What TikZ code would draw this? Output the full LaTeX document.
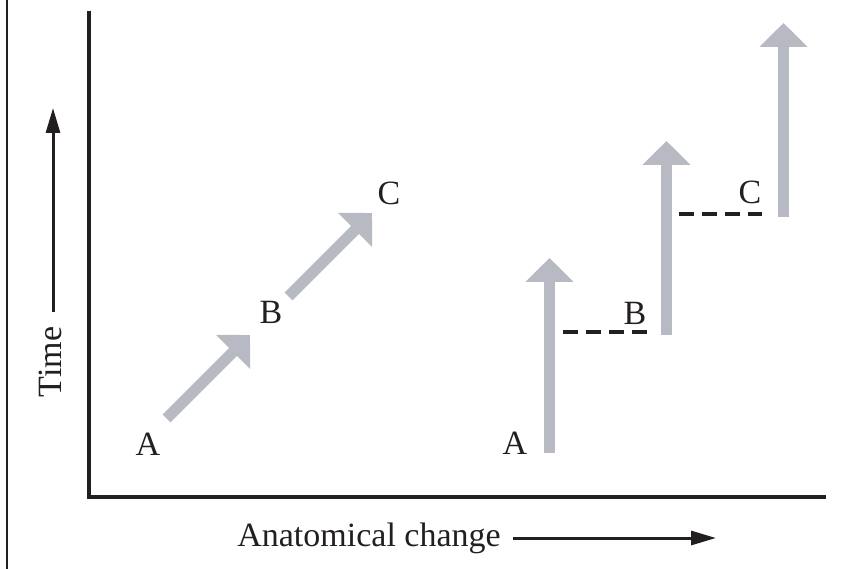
\documentclass[tikz,border=0pt]{standalone}
\usepackage{fontspec}
\setmainfont{Liberation Serif}
\usepackage{tikz}
\usetikzlibrary{arrows.meta}
\definecolor{ink}{RGB}{35,31,32}
\definecolor{stepgray}{RGB}{183,186,195}
\tikzset{
  trend/.style={draw=stepgray, line width=11pt, -{Triangle[length=24pt,width=47pt]}},
  axisline/.style={draw=ink, line width=3.5pt},
  hint/.style={draw=ink, line width=3pt, -{Triangle[length=25pt,width=14pt]}},
  link/.style={draw=ink, line width=3.5pt, dash pattern=on 15pt off 8pt},
  lbl/.style={inner sep=0pt, anchor=base, text=ink},
}

\begin{document}
\begin{tikzpicture}[x=1pt, y=-1pt, font=\fontsize{34}{40}\selectfont]
  \useasboundingbox (0,0) rectangle (867,569);
  % frame line at the left edge
  \draw[draw=ink, line width=2pt] (6.5,0) -- (6.5,569);
  % axes
  \coordinate (top) at (89,11);
  \coordinate (origin) at (89,497);
  \coordinate (right) at (826,497);
  \draw[axisline] (top) -- (origin) -- (right);
  % axis captions
  \node[lbl, anchor=center, rotate=90] (tlab) at (50,362) {Time};
  \coordinate (tfrom) at (53,312);
  \coordinate (tto) at (53,108);
  \draw[hint] (tfrom) -- (tto);
  \node[lbl] (xlab) at (369,546) {Anatomical change};
  \coordinate (xfrom) at (513,538);
  \coordinate (xto) at (716,538);
  \draw[hint] (xfrom) -- (xto);
  % gradual change
  \node[lbl] (ga) at (148,455) {A};
  \node[lbl] (gb) at (271,323) {B};
  \node[lbl] (gc) at (389,205) {C};
  \coordinate (g1s) at (166.5,418.5);
  \coordinate (g1e) at (250,335);
  \coordinate (g2s) at (288.5,296.5);
  \coordinate (g2e) at (372,213);
  \draw[trend] (g1s) -- (g1e);
  \draw[trend] (g2s) -- (g2e);
  % punctuated change
  \node[lbl] (pa) at (515,454) {A};
  \node[lbl] (pb) at (635,324) {B};
  \node[lbl] (pc) at (750,204) {C};
  \coordinate (pas) at (549.5,453);
  \coordinate (pae) at (549.5,258);
  \coordinate (pbs) at (666.5,335);
  \coordinate (pbe) at (666.5,141);
  \coordinate (pcs) at (783.5,217);
  \coordinate (pce) at (783.5,23);
  \draw[trend] (pas) -- (pae);
  \draw[trend] (pbs) -- (pbe);
  \draw[trend] (pcs) -- (pce);
  \coordinate (d1s) at (563,332);
  \coordinate (d1e) at (647,332);
  \coordinate (d2s) at (679,214);
  \coordinate (d2e) at (762,214);
  \draw[link] (d1s) -- (d1e);
  \draw[link] (d2s) -- (d2e);
\end{tikzpicture}
\end{document}
